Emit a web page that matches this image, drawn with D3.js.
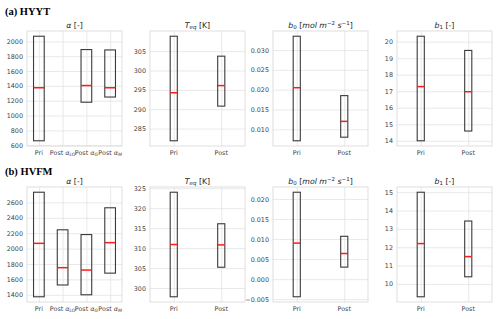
<!DOCTYPE html>
<meta charset="utf-8">
<head>
<script src="https://cdnjs.cloudflare.com/ajax/libs/d3/7.8.5/d3.min.js"></script>
<style>
    body { margin: 0; background: white; }
    text { font-family: "DejaVu Sans", sans-serif; }
    text.row-label { font-family: "Liberation Serif", "Times New Roman", serif; font-weight: bold; font-size: 10.5px; fill: #000; }
    .ptitle { font-size: 7.8px; fill: #262626; }
    .tick text { font-size: 6.4px; fill: #444; }
    .xlab { font-size: 6.4px; fill: #444; }
</style>
</head>
<body>
<div class="viz"></div>
<script>
var width = 500, height = 319;

// ---- data ----
// HYYT
var hyytAlphaLow  = [660, null, 1180, 1250];
var hyytAlphaMed  = [1375, null, 1405, 1375];
var hyytAlphaHigh = [2070, null, 1890, 1885];
var hyytTeqLow  = [281.85, 290.8];
var hyytTeqMed  = [294.25, 296.1];
var hyytTeqHigh = [308.85, 303.7];
var hyytB0Low  = [0.0071, 0.0080];
var hyytB0Med  = [0.0205, 0.0120];
var hyytB0High = [0.0335, 0.0185];
var hyytB1Low  = [14.0, 14.59];
var hyytB1Med  = [17.28, 16.97];
var hyytB1High = [20.33, 19.47];
// HVFM
var hvfmAlphaLow  = [1374, 1527, 1400, 1681];
var hvfmAlphaMed  = [2068, 1752, 1721, 2077];
var hvfmAlphaHigh = [2732, 2244, 2182, 2530];
var hvfmTeqLow  = [297.8, 305.2];
var hvfmTeqMed  = [310.9, 310.8];
var hvfmTeqHigh = [324.0, 316.1];
var hvfmB0Low  = [-0.0044, 0.0030];
var hvfmB0Med  = [0.0090, 0.0064];
var hvfmB0High = [0.0217, 0.0107];
var hvfmB1Low  = [9.3, 10.39];
var hvfmB1Med  = [12.2, 11.49];
var hvfmB1High = [15.0, 13.43];

// tick values
var alphaTicksA = [600, 800, 1000, 1200, 1400, 1600, 1800, 2000];
var teqTicksA   = [285, 290, 295, 300, 305];
var b0TicksA    = [0.010, 0.015, 0.020, 0.025, 0.030];
var b1TicksA    = [14, 15, 16, 17, 18, 19, 20];
var alphaTicksB = [1400, 1600, 1800, 2000, 2200, 2400, 2600];
var teqTicksB   = [300, 305, 310, 315, 320, 325];
var b0TicksB    = [-0.005, 0.000, 0.005, 0.010, 0.015, 0.020];
var b1TicksB    = [10, 11, 12, 13, 14, 15];

// category labels: [main, subscript]
var alphaCats = [["Pri", ""], ["Post ", "LO"], ["Post ", "G"], ["Post ", "M"]];
var twoCats   = [["Pri", ""], ["Post", ""]];

var rowLabels = ["(a) HYYT", "(b) HVFM"];

// title pieces: text, italic, shift
var titleAlpha = [["α", 1, 0], [" [-]", 0, 0]];
var titleTeq   = [["T", 1, 0], ["eq", 1, -1], [" [K]", 0, 0]];
var titleB0    = [["b", 1, 0], ["0", 0, -1], [" [", 0, 0], ["mol m", 1, 0], ["−2", 0, 1], [" s", 1, 0], ["−1", 0, 1], ["]", 0, 0]];
var titleB1    = [["b", 1, 0], ["1", 0, -1], [" [-]", 0, 0]];

// ---- layout ----
var panelLeft = [27, 150, 273, 397],
    panelW = 95,
    rowTop = [31, 187],
    panelH = 115;

var svg = d3.select("div.viz").append("svg")
    .attr("width", width)
    .attr("height", height);

svg.selectAll("text.row-label")
    .data(rowLabels)
    .enter().append("text")
    .attr("class", "row-label")
    .attr("font-family", "Liberation Serif")
    .attr("x", 5)
    .attr("y", function(d, i) { return i == 0 ? 15 : 175; })
    .text(function(d) { return d; });

var panels = [
    {row: 0, col: 0, cats: alphaCats, lo: hyytAlphaLow, med: hyytAlphaMed, hi: hyytAlphaHigh, ticks: alphaTicksA, fmt: d3.format("d"), title: titleAlpha},
    {row: 0, col: 1, cats: twoCats, lo: hyytTeqLow, med: hyytTeqMed, hi: hyytTeqHigh, ticks: teqTicksA, fmt: d3.format("d"), title: titleTeq},
    {row: 0, col: 2, cats: twoCats, lo: hyytB0Low, med: hyytB0Med, hi: hyytB0High, ticks: b0TicksA, fmt: d3.format(".3f"), title: titleB0},
    {row: 0, col: 3, cats: twoCats, lo: hyytB1Low, med: hyytB1Med, hi: hyytB1High, ticks: b1TicksA, fmt: d3.format("d"), title: titleB1},
    {row: 1, col: 0, cats: alphaCats, lo: hvfmAlphaLow, med: hvfmAlphaMed, hi: hvfmAlphaHigh, ticks: alphaTicksB, fmt: d3.format("d"), title: titleAlpha},
    {row: 1, col: 1, cats: twoCats, lo: hvfmTeqLow, med: hvfmTeqMed, hi: hvfmTeqHigh, ticks: teqTicksB, fmt: d3.format("d"), title: titleTeq},
    {row: 1, col: 2, cats: twoCats, lo: hvfmB0Low, med: hvfmB0Med, hi: hvfmB0High, ticks: b0TicksB, fmt: d3.format(".3f"), title: titleB0},
    {row: 1, col: 3, cats: twoCats, lo: hvfmB1Low, med: hvfmB1Med, hi: hvfmB1High, ticks: b1TicksB, fmt: d3.format("d"), title: titleB1}
];

panels.forEach(drawPanel);

function drawPanel(p) {
    var n = p.cats.length;
    var g = svg.append("g")
        .attr("transform", "translate(" + panelLeft[p.col] + "," + rowTop[p.row] + ")");

    // matplotlib style autoscale: 5% margin
    var lo = d3.min(p.lo), hi = d3.max(p.hi), pad = (hi - lo) * 0.05;
    var y = d3.scaleLinear().domain([lo - pad, hi + pad]).range([panelH, 0]);
    var x = d3.scaleLinear().domain([0.5, n + 0.5]).range([0, panelW]);
    // default boxplot width: min(0.5, 0.15 * span)
    var bw = Math.min(0.5, 0.15 * Math.max(n - 1, 1));

    // grid + y labels
    var ya = g.append("g")
        .call(d3.axisLeft(y).tickValues(p.ticks).tickFormat(p.fmt).tickSize(-panelW).tickPadding(4));
    ya.select(".domain").remove();
    ya.selectAll(".tick line").attr("stroke", "#e3e3e3").attr("stroke-width", 0.8);

    var xa = g.append("g")
        .attr("transform", "translate(0," + panelH + ")")
        .call(d3.axisBottom(x).tickValues(d3.range(1, n + 1)).tickFormat("").tickSize(-panelH));
    xa.select(".domain").remove();
    xa.selectAll(".tick line").attr("stroke", "#e3e3e3").attr("stroke-width", 0.8);

    // frame
    g.append("rect")
        .attr("width", panelW)
        .attr("height", panelH)
        .attr("fill", "none")
        .attr("stroke", "#d6d6d6")
        .attr("stroke-width", 0.8);

    // boxes
    var idx = d3.range(n).filter(function(i) { return p.lo[i] != null; });
    g.selectAll("rect.box")
        .data(idx)
        .enter().append("rect")
        .attr("class", "box")
        .attr("x", function(i) { return x(i + 1 - bw / 2); })
        .attr("width", function() { return x(1 + bw) - x(1); })
        .attr("y", function(i) { return y(p.hi[i]); })
        .attr("height", function(i) { return y(p.lo[i]) - y(p.hi[i]); })
        .attr("fill", "none")
        .attr("stroke", "#3a3a3a")
        .attr("stroke-width", 1.1);

    g.selectAll("line.med")
        .data(idx)
        .enter().append("line")
        .attr("class", "med")
        .attr("x1", function(i) { return x(i + 1 - bw / 2); })
        .attr("x2", function(i) { return x(i + 1 + bw / 2); })
        .attr("y1", function(i) { return y(p.med[i]); })
        .attr("y2", function(i) { return y(p.med[i]); })
        .attr("stroke", "#ff1a1a")
        .attr("stroke-width", 1.5);

    // x labels
    p.cats.forEach(function(c, i) {
        var t = g.append("text")
            .attr("class", "xlab")
            .attr("text-anchor", "middle")
            .attr("x", x(i + 1))
            .attr("y", panelH + 8.5);
        t.append("tspan").text(c[0]);
        if (c[1]) {
            t.append("tspan").style("font-style", "italic").text("α");
            t.append("tspan").style("font-style", "italic").attr("font-size", 4.5).attr("dy", 1.3).text(c[1]);
        }
    });

    // title
    var tt = g.append("text")
        .attr("class", "ptitle")
        .attr("text-anchor", "middle")
        .attr("x", panelW / 2)
        .attr("y", -3.5);
    var cur = 0;
    p.title.forEach(function(s) {
        var shift = s[2] == -1 ? 1.8 : (s[2] == 1 ? -3 : 0);
        tt.append("tspan")
            .style("font-style", s[1] ? "italic" : "normal")
            .attr("font-size", s[2] ? 5.5 : null)
            .attr("dy", shift - cur)
            .text(s[0]);
        cur = shift;
    });
}
</script>
</body>
